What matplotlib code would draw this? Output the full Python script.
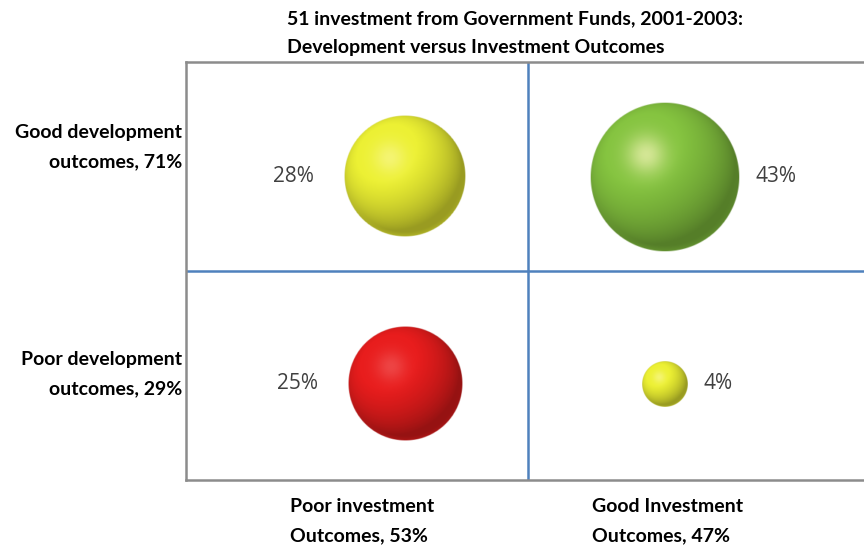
import numpy as np
import matplotlib
matplotlib.use("Agg")
import matplotlib.pyplot as plt

# data
dev_labels = ["Good development\noutcomes, 71%", "Poor development\noutcomes, 29%"]
inv_labels = ["Poor investment\nOutcomes, 53%", "Good Investment\nOutcomes, 47%"]
# quadrant shares: (investment column, development row, value)
quad_col = [0, 1, 0, 1]      # 0 = poor investment, 1 = good investment
quad_row = [1, 1, 0, 0]      # 1 = good development, 0 = poor development
quad_val = [28, 43, 25, 4]
quad_color = ["yellow", "green", "red", "yellow"]

title = "51 investment from Government Funds, 2001-2003:\nDevelopment versus Investment Outcomes"

base_rgb = {
    "yellow": np.array([232, 236, 50]) / 255,
    "green": np.array([130, 192, 62]) / 255,
    "red": np.array([228, 28, 28]) / 255,
}
hi_rgb = {
    "yellow": np.array([248, 246, 140]) / 255,
    "green": np.array([245, 245, 185]) / 255,
    "red": np.array([240, 85, 85]) / 255,
}


def sphere_image(color, n=200):
    # shaded ball, light from upper left
    y, x = np.mgrid[1:-1:n * 1j, -1:1:n * 1j]
    rr = x ** 2 + y ** 2
    inside = rr <= 1
    z = np.sqrt(np.clip(1 - rr, 0, 1))
    L = np.array([-0.35, 0.45, 0.82])
    L = L / np.linalg.norm(L)
    diff = np.clip(x * L[0] + y * L[1] + z * L[2], 0, 1)
    shade = np.clip(0.66 + 0.42 * diff, 0, 1.02)
    img = base_rgb[color][None, None, :] * shade[..., None]
    spec = np.exp(-((x + 0.25) ** 2 + (y - 0.3) ** 2) / 0.07) * 0.7
    img = img * (1 - spec[..., None]) + hi_rgb[color][None, None, :] * spec[..., None]
    # slight lighter rim at the bottom (reflection)
    rim = np.clip((rr - 0.85) / 0.15, 0, 1) * np.clip(-y, 0, 1) * 0.3
    img = img * (1 - rim[..., None]) + rim[..., None] * base_rgb[color][None, None, :]
    img = np.clip(img, 0, 1)
    alpha = np.clip((1 - np.sqrt(rr)) * n / 2, 0, 1) * inside
    return np.dstack([img, alpha])


W, H = 864, 547
fig = plt.figure(figsize=(W / 100, H / 100), dpi=100)
ax = fig.add_axes([186 / W, (H - 480) / H, (W - 186) / W, (480 - 62) / H])
xmax = (W - 186) / 342
ax.set_xticks([])
ax.set_yticks([])
for s in ["left", "top", "bottom"]:
    ax.spines[s].set_color("#8c8c8c")
    ax.spines[s].set_linewidth(1.8)
ax.spines["right"].set_visible(False)

ax.axvline(1, color="#4f81bd", lw=1.8)
ax.axhline(1, color="#4f81bd", lw=1.8)

# pixel size of one data unit
px_x = 342
px_y = 209
r_scale = 75 / np.sqrt(43)     # radius in pixels per sqrt(value)

x_off = [0.64, 0.40]
y_off = [0.46, 0.45]

for c, r, v, col in zip(quad_col, quad_row, quad_val, quad_color):
    cx = c + x_off[c]
    cy = r + y_off[r]
    rp = r_scale * np.sqrt(v)
    rx = rp / px_x
    ry = rp / px_y
    ax.imshow(sphere_image(col), extent=[cx - rx, cx + rx, cy - ry, cy + ry],
              interpolation="bilinear", zorder=3)
    if c == 0:
        ax.annotate(f"{v}%", (cx - rx, cy), xytext=(-30, 0), textcoords="offset pixels",
                    ha="right", va="center", fontsize=15, color="#404040",
                    family="Open Sans")
    else:
        ax.annotate(f"{v}%", (cx + rx, cy), xytext=(16, 0), textcoords="offset pixels",
                    ha="left", va="center", fontsize=15, color="#404040",
                    family="Open Sans")
ax.set_aspect("auto")
ax.set_xlim(0, xmax)
ax.set_ylim(0, 2)

bold = dict(fontsize=14, fontweight="bold", family="Lato", color="black", linespacing=1.85)

fig.text(287 / W, 1 - 33 / H, title, ha="left", va="center", **bold)

fig.text(182 / W, 1 - 147 / H, dev_labels[0], ha="right", va="center", multialignment="right", **bold)
fig.text(182 / W, 1 - 374 / H, dev_labels[1], ha="right", va="center", multialignment="right", **bold)

fig.text(290 / W, 1 - 521 / H, inv_labels[0], ha="left", va="center", **bold)
fig.text(592 / W, 1 - 521 / H, inv_labels[1], ha="left", va="center", **bold)

fig.savefig("out.png", dpi=100)
